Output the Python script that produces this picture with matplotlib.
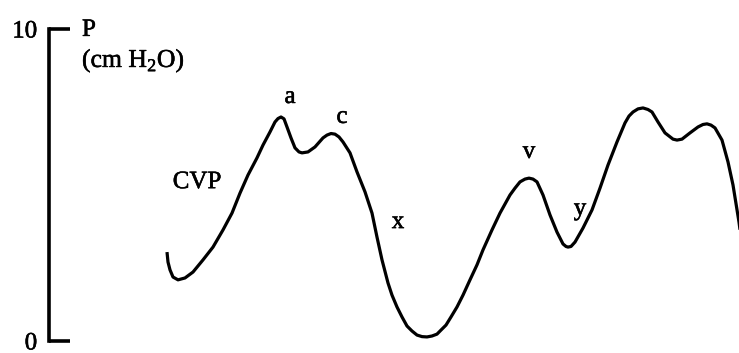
import matplotlib
matplotlib.use("Agg")
import matplotlib.pyplot as plt
import matplotlib.patheffects as pe

plt.rcParams['font.family'] = ['Liberation Serif', 'DejaVu Serif']
plt.rcParams['mathtext.fontset'] = 'custom'
plt.rcParams['mathtext.rm'] = 'Liberation Serif'

# central venous pressure trace, pressure in cm H2O against time
t = [1.67, 1.68, 1.70, 1.73, 1.78, 1.85, 1.93, 2.03, 2.13, 2.23,
     2.32, 2.40, 2.48, 2.57, 2.63, 2.70, 2.75, 2.78, 2.81, 2.84,
     2.87, 2.91, 2.95, 2.99, 3.02, 3.08, 3.15, 3.23, 3.27, 3.31,
     3.35, 3.39, 3.43, 3.50, 3.57, 3.65, 3.72, 3.77, 3.82, 3.88,
     3.92, 3.97, 4.02, 4.07, 4.12, 4.17, 4.22, 4.27, 4.32, 4.37,
     4.41, 4.46, 4.51, 4.57, 4.63, 4.70, 4.77, 4.83, 4.92, 5.00,
     5.10, 5.15, 5.20, 5.25, 5.29, 5.33, 5.37, 5.43, 5.50, 5.57,
     5.63, 5.66, 5.68, 5.71, 5.75, 5.83, 5.92, 6.00, 6.08, 6.17,
     6.25, 6.29, 6.33, 6.38, 6.43, 6.48, 6.52, 6.58, 6.65, 6.73,
     6.77, 6.82, 6.90, 6.98, 7.03, 7.07, 7.11, 7.15, 7.22, 7.28,
     7.33, 7.39, 7.42]
cvp = [2.85, 2.53, 2.28, 2.05, 1.96, 2.02, 2.21, 2.60, 3.01, 3.56,
       4.10, 4.74, 5.32, 5.87, 6.28, 6.70, 7.02, 7.13, 7.18, 7.12,
       6.86, 6.51, 6.19, 6.06, 6.03, 6.06, 6.22, 6.51, 6.60, 6.65,
       6.63, 6.54, 6.38, 6.03, 5.42, 4.78, 4.10, 3.33, 2.60, 1.86,
       1.47, 1.09, 0.77, 0.48, 0.32, 0.19, 0.14, 0.13, 0.16, 0.22,
       0.35, 0.51, 0.77, 1.09, 1.47, 1.96, 2.44, 2.92, 3.56, 4.10,
       4.68, 4.90, 5.10, 5.19, 5.22, 5.19, 5.10, 4.68, 4.04, 3.49,
       3.11, 3.03, 3.01, 3.03, 3.17, 3.62, 4.20, 4.90, 5.64, 6.38,
       6.99, 7.21, 7.34, 7.44, 7.47, 7.42, 7.34, 7.02, 6.67, 6.47,
       6.44, 6.47, 6.67, 6.86, 6.94, 6.96, 6.92, 6.83, 6.44, 5.74,
       5.00, 3.81, 3.08]

# wave labels: text, time, baseline pressure
wave_names = ['CVP', 'a', 'c', 'x', 'v', 'y']
wave_t = [1.97, 2.90, 3.42, 3.98, 5.29, 5.80]
wave_p = [4.90, 7.63, 6.99, 3.62, 5.87, 4.04]

ink = [pe.withStroke(linewidth=0.4, foreground='black')]

fig = plt.figure(figsize=(7.39, 3.53), dpi=100)
ax = fig.add_axes([0, 0, 1, 1])
ax.set_xlim(0, 7.39)
ax.set_ylim(-0.385, 10.93)

ax.plot(t, cvp, color='black', lw=2.3, solid_joinstyle='round',
        solid_capstyle='butt')

for name, x, y in zip(wave_names, wave_t, wave_p):
    ax.text(x, y, name, ha='center', va='baseline', fontsize=18,
            path_effects=ink)

# pressure scale bar
for side in ['top', 'right', 'bottom']:
    ax.spines[side].set_visible(False)
ax.spines['left'].set_position(('data', 0.49))
ax.spines['left'].set_bounds(0, 10)
ax.spines['left'].set_linewidth(2.6)
ax.set_xticks([])
ax.set_yticks([0, 10])
ax.set_yticklabels(['0', '10'])
ax.tick_params(axis='y', direction='in', length=15, width=2.6, pad=8.5,
               labelsize=18)
for lbl in ax.get_yticklabels():
    lbl.set_path_effects(ink)

ax.text(0.82, 9.78, 'P', ha='left', va='baseline', fontsize=18,
        path_effects=ink)
ax.text(0.82, 8.78, '(cm H$_2$O)', ha='left', va='baseline', fontsize=18.5,
        path_effects=ink)

fig.savefig('out.png', dpi=100)
